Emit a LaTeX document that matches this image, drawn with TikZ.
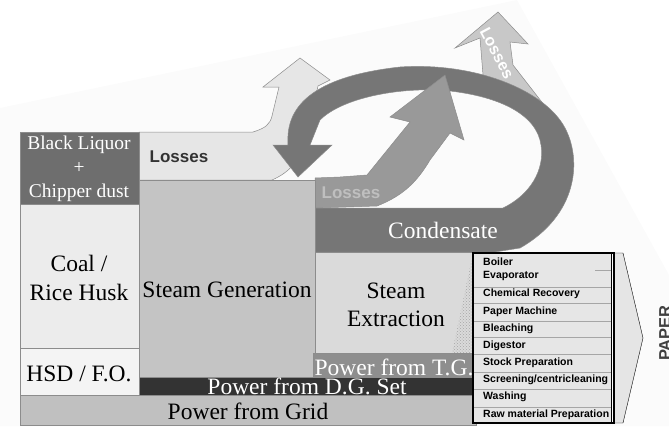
\documentclass[tikz,border=0pt]{standalone}
\usepackage{fontspec}
\setmainfont{Liberation Serif}
\setsansfont{Liberation Sans}
\usetikzlibrary{patterns}
\definecolor{backdrop}{HTML}{FBFBFB}
\definecolor{liquor}{HTML}{6E6E6E}
\definecolor{coal}{HTML}{ECECEC}
\definecolor{hsd}{HTML}{F4F4F4}
\definecolor{steamgen}{HTML}{C4C4C4}
\definecolor{extract}{HTML}{DADADA}
\definecolor{tg}{HTML}{8E8E8E}
\definecolor{dg}{HTML}{333333}
\definecolor{grid}{HTML}{C0C0C0}
\definecolor{lossleft}{HTML}{E6E6E6}
\definecolor{lossmid}{HTML}{999999}
\definecolor{losstop}{HTML}{C8C8C8}
\definecolor{condense}{HTML}{767676}
\definecolor{listcell}{HTML}{E6E6E6}
\tikzset{
block/.style={draw=black!45, line width=0.5pt}, % outline of every band and box
big/.style={font=\fontsize{23.5}{28.5}\selectfont, align=center, inner sep=0pt}, % serif labels
mid/.style={font=\fontsize{19.5}{24}\selectfont, align=center, inner sep=0pt},
loss/.style={font=\fontsize{17}{20}\selectfont\sffamily\bfseries, inner sep=0pt}, % the Losses labels
item/.style={font=\fontsize{10.5}{12}\selectfont\sffamily\bfseries, anchor=west, inner sep=0pt}, % list entries
}

\begin{document}
\begin{tikzpicture}[x=1pt, y=-1pt]
    \useasboundingbox (0,0) rectangle (669,426);
    \fill[backdrop] (0,108) -- (517,0) -- (669,275) -- (669,426) -- (0,426) -- cycle;

    % loss arrows behind the loop
    \filldraw[block, fill=lossleft] (139,132) -- (253,132) .. controls (266,128) and (270,124) .. (272,116) -- (279,87) -- (263,87) -- (300,58) -- (330,80) -- (318,86) -- (308,130) .. controls (302,160) and (290,172) .. (272,180) -- (139,180) -- cycle;
    \filldraw[block, fill=losstop] (483,75) -- (480,38) -- (455,48) -- (498,12) -- (528,44) -- (510,42) -- (513,65) -- (548,110) -- cycle;

    % condensate return loop
    \filldraw[block, fill=condense] (315,208) -- (503,208) .. controls (530,195) and (545,170) .. (541,145) .. controls (537,115) and (500,95) .. (440,90) .. controls (390,88) and (340,100) .. (320,120) -- (310,145) -- (332,145) -- (298,177) -- (273,145) -- (288,145) .. controls (286,115) and (300,78) .. (400,67) .. controls (475,62) and (545,90) .. (565,128) .. controls (582,160) and (578,215) .. (520,248) -- (495,252) -- (315,252) -- cycle;

    % losses from steam extraction
    \filldraw[block, fill=lossmid] (315,178) -- (340,177) -- (367,175) -- (410,122) -- (390,117) -- (445,75) -- (464,140) -- (450,133) -- (430,160) .. controls (418,180) and (405,195) .. (377,206) -- (315,208) -- cycle;

    % fuel column
    \filldraw[block, fill=liquor] (20,132) rectangle (139,204);
    \filldraw[block, fill=coal] (20,204) rectangle (139,348);
    \filldraw[block, fill=hsd] (20,348) rectangle (139,395);
    \filldraw[block, fill=steamgen] (139,180) rectangle (315,377);
    \filldraw[block, fill=extract] (315,252) rectangle (473,353);
    \fill[pattern=crosshatch dots, pattern color=gray!70] (473,253) -- (473,353) -- (452,353) -- cycle;

    \node[mid, text=white] (liquortext) at (79,169) {Black Liquor\\+\\Chipper dust};
    \node[big] (coaltext) at (79,278) {Coal /\\Rice Husk};
    \node[big, anchor=base] (hsdtext) at (79,381) {HSD / F.O.};
    \node[big] (gentext) at (227,290) {Steam Generation};
    \node[big] (extracttext) at (396,305) {Steam\\Extraction};
    \node[big, text=white] (condtext) at (443,230) {Condensate};
    \node[loss, text=black!80] (lossleft) at (179,157) {Losses};
    \node[loss, text=black!25] (lossmid) at (351,193) {Losses};
    \node[loss, text=white, rotate=-62, font=\fontsize{16}{19}\selectfont\sffamily\bfseries] (losstop) at (497,53) {Losses};

    % power bands
    \filldraw[block, fill=tg] (313,353) rectangle (476,377);
    \node[big, anchor=base, text=white] (tgtext) at (394,375) {Power from T.G.};
    \filldraw[block, fill=dg] (139,377) rectangle (476,395);
    \node[big, anchor=base, text=white] (dgtext) at (307,394) {Power from D.G. Set};
    \filldraw[block, fill=grid] (20,395) rectangle (476,425);
    \node[big, anchor=base] (gridtext) at (248,419) {Power from Grid};

    % consumers
    \filldraw[draw=black, fill=gray!20] (614,253) -- (623,253) -- (643,338) -- (623,423) -- (614,423) -- cycle;
    \fill[listcell] (473,253) rectangle (611,423);
    \foreach \y in {287,303,321,337,354,372,389,407}
        \draw[gray!70, line width=0.6pt] (473,\y) -- (611,\y);
    \draw[gray!70] (595,270) -- (611,270);
    \draw[black, line width=0.6pt] (611,253) -- (611,423);
    \draw[black, line width=1.2pt] (473,253) rectangle (614,423);
    \foreach \name/\y [count=\i] in {Boiler/262, Evaporator/276, Chemical Recovery/294, Paper Machine/311.5, Bleaching/329, Digestor/345.5, Stock Preparation/363, {Screening/centricleaning}/380, Washing/397, Raw material Preparation/414.5}
        \node[item] (item\i) at (483,\y) {\name};

    \node[font=\fontsize{16.5}{20}\selectfont\sffamily\bfseries, text=black!75, rotate=90, inner sep=0pt] (paper) at (665,333) {PAPER};
\end{tikzpicture}
\end{document}
